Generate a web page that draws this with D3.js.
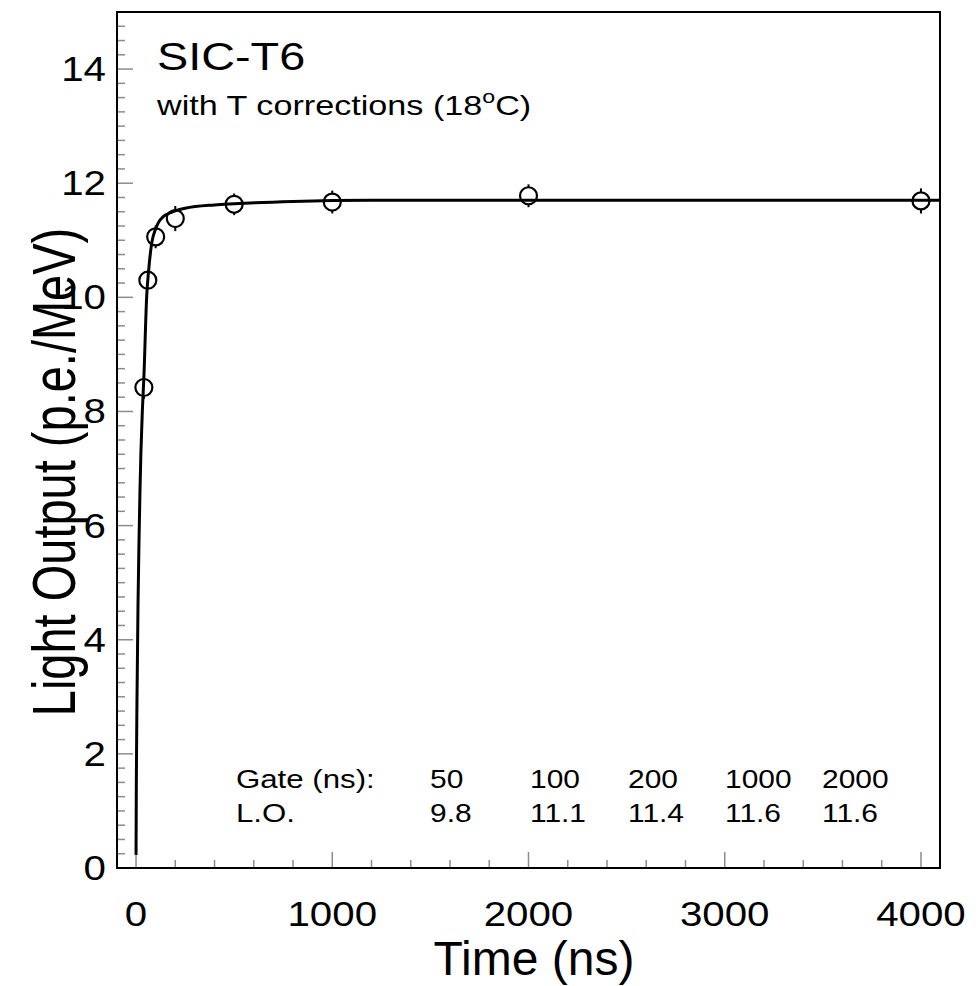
<!DOCTYPE html>
<html>
<head>
<meta charset="utf-8">
<script src="https://cdn.jsdelivr.net/npm/d3@7"></script>
<style>
  body { margin: 0; background: #fff; }
  text { font-family: "Liberation Sans", Arial, Helvetica, sans-serif; fill: #000; }
</style>
</head>
<body>
<script>
const width = 978;
const height = 986;

// measured points
const times = [40, 60, 100, 200, 500, 1000, 2000, 4000];
const lightOutput = [8.42, 10.3, 11.06, 11.38, 11.63, 11.67, 11.78, 11.69];
const errors = [0.2, 0.15, 0.2, 0.22, 0.19, 0.2, 0.2, 0.22];

// fitted curve
const fitTimes = [0, 1.5, 5, 10, 15, 20, 25, 32, 40, 54, 65, 80, 100, 114, 140, 173, 250, 400, 500, 800, 1200, 4100];
const fitValues = [0.23, 1.5, 3.0, 4.6, 5.7, 6.6, 7.3, 8.0, 8.6, 10.0, 10.5, 10.95, 11.2, 11.31, 11.42, 11.48, 11.56, 11.62, 11.64, 11.68, 11.7, 11.7];

// gate table
const gates = ["50", "100", "200", "1000", "2000"];
const gateLO = ["9.8", "11.1", "11.4", "11.6", "11.6"];

const xTicks = [0, 1000, 2000, 3000, 4000];
const yTicks = [0, 2, 4, 6, 8, 10, 12, 14];

const pLeft = 117, pRight = 940, pTop = 12, pBottom = 868;

const x = d3.scaleLinear().domain([-97, 4097]).range([pLeft, pRight]);
const y = d3.scaleLinear().domain([0, 15]).range([pBottom, pTop]);

const svg = d3.select("body").append("svg")
  .attr("width", width)
  .attr("height", height);

// stretch text horizontally, the reference glyphs are a bit wide
function stretch(sel, k) {
  sel.each(function () {
    const w = this.getComputedTextLength();
    d3.select(this).attr("textLength", w * k).attr("lengthAdjust", "spacingAndGlyphs");
  });
}

svg.append("clipPath").attr("id", "frame")
  .append("rect")
  .attr("x", pLeft).attr("y", pTop)
  .attr("width", pRight - pLeft).attr("height", pBottom - pTop);

// ticks (inside the frame)
const tickCol = "#8c8c8c";
const xMinor = d3.range(0, 4097, 200);
svg.append("g").selectAll("line")
  .data(xMinor)
  .join("line")
  .attr("x1", d => x(d)).attr("x2", d => x(d))
  .attr("y1", pBottom)
  .attr("y2", d => d % 1000 === 0 ? pBottom - 16 : pBottom - 8)
  .attr("stroke", tickCol).attr("stroke-width", 1.5);

const yMinor = d3.range(0, 15.01, 0.25);
svg.append("g").selectAll("line")
  .data(yMinor)
  .join("line")
  .attr("y1", d => y(d)).attr("y2", d => y(d))
  .attr("x1", pLeft)
  .attr("x2", d => d % 2 === 0 ? pLeft + 16 : pLeft + 8)
  .attr("stroke", tickCol).attr("stroke-width", 1.5);

// tick labels
svg.append("g").selectAll("text")
  .data(xTicks)
  .join("text")
  .attr("x", d => x(d)).attr("y", 926)
  .attr("text-anchor", "middle")
  .attr("font-size", 35)
  .text(d => d)
  .call(stretch, 1.15);

svg.append("g").selectAll("text")
  .data(yTicks)
  .join("text")
  .attr("x", 106).attr("y", d => y(d) + 12)
  .attr("text-anchor", "end")
  .attr("font-size", 35)
  .text(d => d)
  .call(stretch, 1.15);

// axis titles
svg.append("text")
  .attr("x", 534).attr("y", 975)
  .attr("text-anchor", "middle")
  .attr("font-size", 48)
  .text("Time (ns)");

svg.append("text")
  .attr("transform", "translate(75,472) scale(1.3,1) rotate(-90)")
  .attr("text-anchor", "middle")
  .attr("font-size", 47)
  .text("Light Output (p.e./MeV)");

// fit curve
const line = d3.line()
  .x((d, i) => x(fitTimes[i]))
  .y(d => y(d))
  .curve(d3.curveMonotoneX);

svg.append("path")
  .datum(fitValues)
  .attr("clip-path", "url(#frame)")
  .attr("d", line)
  .attr("fill", "none")
  .attr("stroke", "#000")
  .attr("stroke-width", 3);

// data points with error bars
const r = 8.5;
const pts = svg.append("g").selectAll("g")
  .data(times)
  .join("g");

pts.append("line")
  .attr("x1", d => x(d)).attr("x2", d => x(d))
  .attr("y1", (d, i) => y(lightOutput[i] + errors[i]))
  .attr("y2", (d, i) => y(lightOutput[i]) - r)
  .attr("stroke", "#000").attr("stroke-width", 2);

pts.append("line")
  .attr("x1", d => x(d)).attr("x2", d => x(d))
  .attr("y1", (d, i) => y(lightOutput[i]) + r)
  .attr("y2", (d, i) => y(lightOutput[i] - errors[i]))
  .attr("stroke", "#000").attr("stroke-width", 2);

pts.append("circle")
  .attr("cx", d => x(d))
  .attr("cy", (d, i) => y(lightOutput[i]))
  .attr("r", r)
  .attr("fill", "none")
  .attr("stroke", "#000")
  .attr("stroke-width", 2.2);

// frame
svg.append("rect")
  .attr("x", pLeft).attr("y", pTop)
  .attr("width", pRight - pLeft).attr("height", pBottom - pTop)
  .attr("fill", "none")
  .attr("stroke", "#000")
  .attr("stroke-width", 2);

// labels
svg.append("text")
  .attr("x", 157).attr("y", 70)
  .attr("font-size", 39)
  .text("SIC-T6")
  .call(stretch, 1.2);

const sub = svg.append("text")
  .attr("x", 157).attr("y", 115)
  .attr("font-size", 28);
sub.append("tspan").text("with T corrections (18");
sub.append("tspan").attr("dy", -12).attr("font-size", 19).text("o");
sub.append("tspan").attr("dy", 12).text("C)");
sub.call(stretch, 1.22);

// gate table
const colX = [430, 530, 628, 725, 822];
const table = svg.append("g").attr("font-size", 26);
table.append("text").attr("x", 236).attr("y", 788).text("Gate (ns):").call(stretch, 1.2);
table.append("text").attr("x", 236).attr("y", 822).text("L.O.").call(stretch, 1.2);
table.selectAll(".g")
  .data(gates)
  .join("text")
  .attr("class", "g")
  .attr("x", (d, i) => colX[i]).attr("y", 788)
  .text(d => d)
  .call(stretch, 1.15);
table.selectAll(".lo")
  .data(gateLO)
  .join("text")
  .attr("class", "lo")
  .attr("x", (d, i) => colX[i]).attr("y", 822)
  .text(d => d)
  .call(stretch, 1.15);
</script>
</body>
</html>
